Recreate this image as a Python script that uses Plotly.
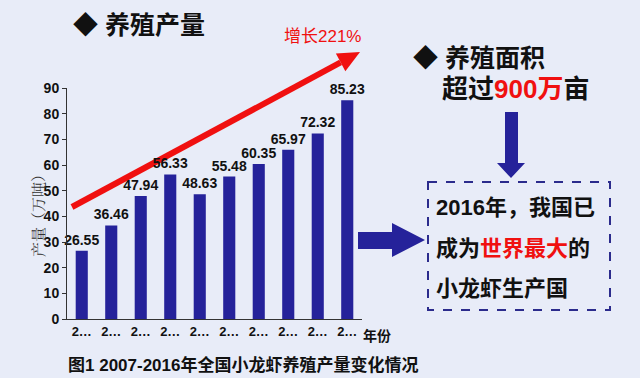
import math
import plotly.graph_objects as go

years = ["2007", "2008", "2009", "2010", "2011", "2012", "2013", "2014", "2015", "2016"]
output = [26.55, 36.46, 47.94, 56.33, 48.63, 55.48, 60.35, 65.97, 72.32, 85.23]
tick_labels = ["2…"] * 10
y_ticks = [0, 10, 20, 30, 40, 50, 60, 70, 80, 90]

W, H = 640, 378
L, R, T, B = 67, 278, 88, 59
PW, PH = W - L - R, H - T - B

def px(x):
    return (x - L) / PW

def py(y):
    return (H - B - y) / PH

BG = "#E8ECF8"
BLUE = "#25229A"
RED = "#F01010"
FONT = "Liberation Sans, Noto Sans CJK SC, sans-serif"

fig = go.Figure()
fig.add_trace(go.Bar(
    x=years, y=output,
    marker=dict(color=BLUE, line=dict(width=0)),
    text=[f"{v:.2f}" for v in output],
    textposition="outside",
    constraintext="none",
    textfont=dict(family=FONT, size=14, color="#111111", weight="bold"),
    cliponaxis=False,
))

fig.update_layout(
    width=W, height=H,
    margin=dict(l=L, r=R, t=T, b=B),
    paper_bgcolor=BG, plot_bgcolor="rgba(0,0,0,0)",
    showlegend=False,
    bargap=0.59,
    font=dict(family=FONT, color="#111111"),
    xaxis=dict(
        type="category",
        range=[-0.5, 9.5],
        tickvals=years, ticktext=tick_labels,
        showline=True, linecolor="#333333", linewidth=1,
        ticks="", showgrid=False, zeroline=False, automargin=False,
        tickfont=dict(size=13, color="#111111", weight="bold"),
    ),
    yaxis=dict(
        range=[0, 90],
        tickvals=y_ticks,
        showline=True, linecolor="#333333", linewidth=1,
        ticks="outside", ticklen=4, tickcolor="#333333",
        showgrid=False, zeroline=False, automargin=False,
        tickfont=dict(size=14, color="#111111", weight="bold"),
    ),
)

def note(text, x, y, size, xanchor="left", **kw):
    d = dict(text=text, x=px(x), y=py(y), xref="paper", yref="paper",
             xanchor=xanchor, yanchor="middle", showarrow=False,
             font=dict(size=size, color="#111111", weight="bold"))
    d.update(kw)
    return d

ann = []
ann.append(note("产量（万吨）", 37, 212, 15, xanchor="center", textangle=-90,
                font=dict(family="Noto Serif CJK SC, Noto Sans CJK SC, serif", size=15, color="#333333")))
ann.append(note("年份", 361, 336, 14))
ann.append(note("◆ 养殖产量", 71, 25, 25))
ann.append(note("增长221%", 322, 36, 17, xanchor="center",
                font=dict(size=17, color=RED)))
ann.append(note("◆ 养殖面积", 411, 58, 25))
ann.append(note(f"超过<span style='color:{RED}'>900万</span>亩", 440, 89, 26))
ann.append(note("2016年，我国已", 434, 207, 22))
ann.append(note(f"成为<span style='color:{RED}'>世界最大</span>的", 434, 248, 22))
ann.append(note("小龙虾生产国", 434, 288, 22))
ann.append(note("图1 2007-2016年全国小龙虾养殖产量变化情况", 66, 365, 17))
fig.update_layout(annotations=ann)

def path(points):
    return "M " + " L ".join(f"{px(a)},{py(b)}" for a, b in points) + " Z"

# red growth arrow (drawn below the bar labels)
tail = (72, 207)
tip = (360, 52)
dx, dy = tip[0] - tail[0], tip[1] - tail[1]
ln = math.hypot(dx, dy)
ux, uy = dx / ln, dy / ln
nx, ny = -uy, ux
base = (tip[0] - 22 * ux, tip[1] - 22 * uy)
hw = 10

shapes = []
shapes.append(dict(type="line", xref="paper", yref="paper", layer="below",
                   x0=px(tail[0]), y0=py(tail[1]), x1=px(base[0]), y1=py(base[1]),
                   line=dict(color=RED, width=6)))
shapes.append(dict(type="path", xref="paper", yref="paper", layer="below",
                   path=path([tip, (base[0] + hw * nx, base[1] + hw * ny),
                              (base[0] - hw * nx, base[1] - hw * ny)]),
                   fillcolor=RED, line=dict(width=0)))
shapes.append(dict(type="rect", xref="paper", yref="paper",
                   x0=px(428), x1=px(610), y0=py(182), y1=py(310),
                   line=dict(color="#2B2B8C", width=2, dash="dash")))
shapes.append(dict(type="path", xref="paper", yref="paper",
                   path=path([(505, 112), (518, 112), (518, 163), (525, 163), (511, 178),
                              (497, 163), (505, 163)]),
                   fillcolor=BLUE, line=dict(width=0)))
shapes.append(dict(type="path", xref="paper", yref="paper",
                   path=path([(358, 232), (392, 232), (392, 223), (425, 240), (392, 257),
                              (392, 249), (358, 249)]),
                   fillcolor=BLUE, line=dict(width=0)))
fig.update_layout(shapes=shapes)

fig.write_html("out.html",
               config={"displayModeBar": False},
               post_script=f"document.body.style.margin='0';document.body.style.background='{BG}';")
